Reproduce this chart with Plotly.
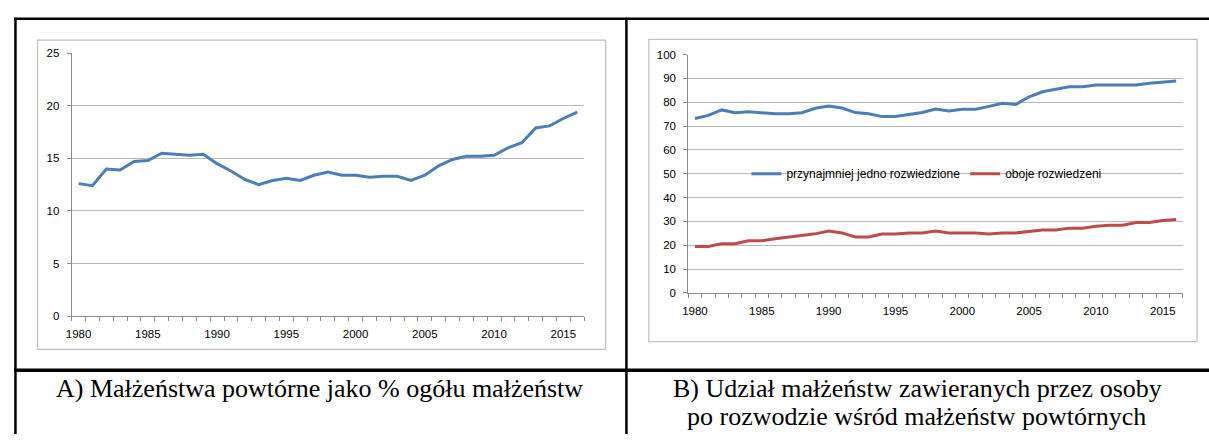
import plotly.graph_objects as go

W, H = 1209, 440

years = list(range(1980, 2017))

# A) remarriages as % of all marriages
share_remarriages = [12.6, 12.4, 14.0, 13.9, 14.7, 14.8, 15.5, 15.4, 15.3, 15.4,
                     14.5, 13.8, 13.0, 12.5, 12.9, 13.1, 12.9, 13.4, 13.7, 13.4,
                     13.4, 13.2, 13.3, 13.3, 12.9, 13.4, 14.3, 14.9, 15.2, 15.2,
                     15.3, 16.0, 16.5, 17.9, 18.1, 18.8, 19.4]

# B) share among remarriages
at_least_one = [73.2, 74.5, 76.8, 75.6, 76.0, 75.6, 75.2, 75.2, 75.6, 77.5,
                78.4, 77.6, 75.7, 75.2, 74.0, 74.0, 74.8, 75.7, 77.2, 76.4,
                77.1, 77.1, 78.3, 79.6, 79.1, 82.3, 84.4, 85.3, 86.5, 86.5,
                87.3, 87.3, 87.3, 87.3, 88.0, 88.5, 88.9]
both_divorced = [19.5, 19.5, 20.7, 20.7, 21.9, 21.9, 22.7, 23.5, 24.3, 24.8,
                 26.0, 25.2, 23.5, 23.5, 24.7, 24.7, 25.2, 25.2, 26.0, 25.2,
                 25.2, 25.2, 24.7, 25.2, 25.2, 25.7, 26.4, 26.4, 27.2, 27.2,
                 28.0, 28.4, 28.4, 29.6, 29.6, 30.4, 30.8]

label_years = [1980, 1985, 1990, 1995, 2000, 2005, 2010, 2015]

caption_a = "A) Małżeństwa powtórne jako % ogółu małżeństw"
caption_b1 = "B) Udział małżeństw zawieranych przez osoby"
caption_b2 = "po rozwodzie wśród małżeństw powtórnych"

BLUE = "#4a7ebb"
RED = "#be4b48"
GRID = "#b9b9b9"
AXIS = "#8c8c8c"


def px(x):
    return x / W


def py(y):
    return 1 - y / H


fig = go.Figure()

fig.add_trace(go.Scatter(x=years, y=share_remarriages, mode="lines",
                         line=dict(color=BLUE, width=3), showlegend=False,
                         xaxis="x", yaxis="y"))
fig.add_trace(go.Scatter(x=years, y=at_least_one, mode="lines",
                         name="przynajmniej jedno rozwiedzione",
                         line=dict(color=BLUE, width=3), xaxis="x2", yaxis="y2"))
fig.add_trace(go.Scatter(x=years, y=both_divorced, mode="lines",
                         name="oboje rozwiedzeni",
                         line=dict(color=RED, width=3), xaxis="x2", yaxis="y2"))

tickfont = dict(family="Liberation Sans, Arial", size=11.5, color="#000")

xcommon = dict(range=[1979.5, 2016.5], tickvals=label_years, ticks="",
               showgrid=False, showline=True, linecolor=AXIS, linewidth=1,
               zeroline=False, tickfont=tickfont, ticklabelstandoff=7,
               minor=dict(ticks="outside", tick0=1979.5, dtick=1, ticklen=4,
                          tickcolor=AXIS, showgrid=False))
ycommon = dict(showgrid=True, gridcolor=GRID, gridwidth=1, showline=True,
               linecolor=AXIS, linewidth=1, zeroline=False, ticks="outside",
               ticklen=4, tickcolor=AXIS, tickfont=tickfont,
               ticklabelstandoff=5)

fig.update_layout(
    width=W, height=H, autosize=False,
    margin=dict(l=0, r=0, t=0, b=0),
    paper_bgcolor="white", plot_bgcolor="white",
    xaxis=dict(domain=[px(66), px(581)], anchor="y", **xcommon),
    yaxis=dict(domain=[py(318.7), py(48.7)], anchor="x", range=[0, 25],
               tickvals=[0, 5, 10, 15, 20, 25], **ycommon),
    xaxis2=dict(domain=[px(685.7), px(1182.7)], anchor="y2", **xcommon),
    yaxis2=dict(domain=[py(295), py(50)], anchor="x2", range=[0, 100],
                dtick=10, **ycommon),
    legend=dict(orientation="h", x=px(925), y=py(172.5), xanchor="center",
                yanchor="middle", bgcolor="rgba(0,0,0,0)",
                font=dict(family="Liberation Sans, Arial", size=12, color="#000"),
                itemwidth=30, tracegroupgap=0),
)

shapes = []
# chart frames
for x0, y0, x1, y1 in [(31.7, 35, 602.7, 353), (646, 34.3, 1197, 345)]:
    shapes.append(dict(type="rect", xref="paper", yref="paper",
                       x0=px(x0), x1=px(x1), y0=py(y1), y1=py(y0),
                       line=dict(color="#bfbfbf", width=1.2), layer="below"))
# table borders
for x0, y0, x1, y1, w in [(8, 13, 1209, 13, 2.5), (8, 374.5, 1209, 374.5, 3.5),
                          (9.5, 12, 9.5, 440, 2.5), (623.5, 12, 623.5, 440, 2.5)]:
    shapes.append(dict(type="line", xref="paper", yref="paper",
                       x0=px(x0), x1=px(x1), y0=py(y0), y1=py(y1),
                       line=dict(color="black", width=w)))
fig.update_layout(shapes=shapes)

capfont = dict(family="Liberation Serif, Times New Roman", size=26, color="#000")
for text, cx, cy in [(caption_a, 315.5, 393), (caption_b1, 916, 393),
                     (caption_b2, 915, 422)]:
    fig.add_annotation(text=text, xref="paper", yref="paper", x=px(cx),
                       y=py(cy), xanchor="center", yanchor="middle",
                       showarrow=False, font=capfont)

# drop the default page margin so the figure sits at the window origin
fig.write_html("out.html", config={"displayModeBar": False},
               post_script="document.body.style.margin='0';"
                           "document.body.style.overflow='hidden';")
